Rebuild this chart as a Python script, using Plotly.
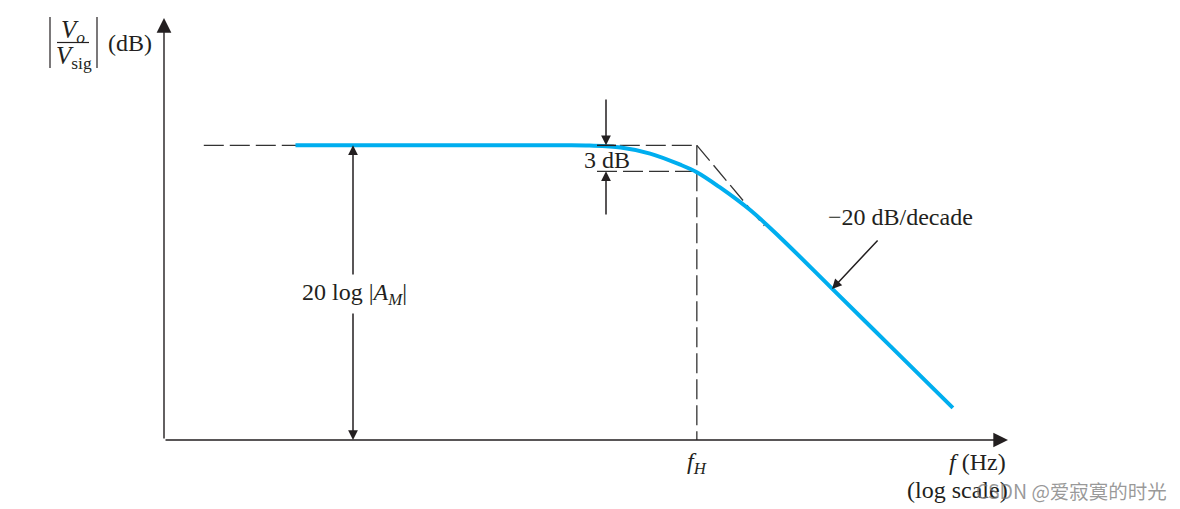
import plotly.graph_objects as go

# ---------------- data ----------------
# frequency axis is log10(f); gain in dB
log_f = [0.76, 1.60, 2.30, 2.46, 2.64, 2.81, 2.98, 3.08, 3.21, 3.39, 3.56, 3.85, 4.20, 4.56]
gain_db = [34.0, 34.0, 34.0, 33.97, 33.75, 33.05, 31.8, 30.9, 29.2, 26.5, 23.4, 17.7, 10.8, 3.7]

mid_band_db = 34.0          # 20 log|A_M|
f_h_log = 3.08              # log10(f_H)
drop_db = 3.0               # 3 dB point
guide_start_log = 0.23      # start of the dashed mid-band guide
asym_end = (3.47, 24.7)     # end of the dashed asymptote sketch

# ---------------- layout helpers (pixel -> data units for decorations) ----------------
W, H = 1180, 509
PX_DEC = 173.0
PX_DB = 26.0 / 3.0
OX, OY = 164, 440
ML, MR, MT, MB = 20, 10, 5, 5


def X(px):
    return (px - OX) / PX_DEC


def Y(py):
    return (OY - py) / PX_DB


INK = "#231f20"
BLUE = "#00aeef"
SERIF = "Liberation Serif, Times New Roman, serif"
FS = 24

fig = go.Figure()

# dashed guides
lvl3 = mid_band_db - drop_db
fig.add_trace(go.Scatter(
    x=[guide_start_log, f_h_log, None, f_h_log, f_h_log, None, X(597), f_h_log, None, f_h_log, asym_end[0]],
    y=[mid_band_db, mid_band_db, None, mid_band_db, 0, None, lvl3, lvl3, None, mid_band_db, asym_end[1]],
    mode="lines", line=dict(color="#333333", width=1.3, dash="20px,6px"),
    hoverinfo="skip", showlegend=False))

# response curve
fig.add_trace(go.Scatter(
    x=log_f, y=gain_db, mode="lines",
    line=dict(color=BLUE, width=4, shape="spline", smoothing=1.0),
    hoverinfo="skip", showlegend=False))

shapes = []
# short solid tick at the mid-band level for the 3 dB dimension
shapes.append(dict(type="line", xref="x", yref="y", x0=X(597), x1=X(616),
                   y0=mid_band_db, y1=mid_band_db, line=dict(color=INK, width=1.5), layer="above"))
# |Vo/Vsig| bars and fraction line
for bx in (50, 97):
    shapes.append(dict(type="line", xref="x", yref="y", x0=X(bx), x1=X(bx), y0=Y(17), y1=Y(68),
                       line=dict(color=INK, width=1.2)))
shapes.append(dict(type="line", xref="x", yref="y", x0=X(57), x1=X(89), y0=Y(42.5), y1=Y(42.5),
                   line=dict(color=INK, width=1.2)))

ann = []


def arrow(tip, tail, size=1.3, width=1.5):
    ann.append(dict(x=tip[0], y=tip[1], ax=tail[0], ay=tail[1], xref="x", yref="y",
                    axref="x", ayref="y", text="", showarrow=True, arrowhead=2,
                    arrowsize=size, arrowwidth=width, arrowcolor=INK, standoff=0))


def text(s, px, py, size=FS, xanchor="center", yanchor="middle", color=INK, family=SERIF):
    ann.append(dict(x=X(px), y=Y(py), xref="x", yref="y", text=s, showarrow=False,
                    xanchor=xanchor, yanchor=yanchor, font=dict(family=family, size=size, color=color)))


# axes with arrows
arrow((0, Y(18)), (0, 0), size=2.1, width=1.4)
arrow((X(1008), 0), (0, 0), size=2.1, width=1.4)

# 3 dB dimension arrows
x3 = X(606)
arrow((x3, mid_band_db), (x3, Y(98)))
arrow((x3, lvl3), (x3, Y(216)))
text("3 dB", 607, 160)

# 20 log |A_M| dimension arrows
xa = X(353)
arrow((xa, mid_band_db), (xa, Y(276)))
arrow((xa, 0), (xa, Y(312)))
text("20 log |<i>A</i><sub><i>M</i></sub>|", 354, 294)

# -20 dB/decade
arrow((X(832), Y(289)), (X(879), Y(239)))
text("\u221220 dB/decade", 900, 217)

# y-axis title
text("<i>V</i><sub><i>o</i></sub>", 73, 31, size=25)
text("<i>V</i><sub>sig</sub>", 74, 57, size=25)
text("(dB)", 130, 43, size=24)

# x labels
text("<i>f</i><sub><i>H</i></sub>", 697, 463, size=24)
text("<i>f</i> (Hz)", 977, 462, size=24)
text("(log scale)", 957, 490, size=24)

# watermark
text("CSDN @爱寂寞的时光", 1071, 490, size=19.5, color="rgba(120,120,120,0.75)",
     family="Noto Sans CJK SC, Noto Sans, sans-serif")

fig.update_layout(
    width=W, height=H,
    margin=dict(l=ML, r=MR, t=MT, b=MB),
    paper_bgcolor="white", plot_bgcolor="white",
    xaxis=dict(range=[X(ML), X(W - MR)], visible=False, fixedrange=True),
    yaxis=dict(range=[Y(H - MB), Y(MT)], visible=False, fixedrange=True),
    shapes=shapes, annotations=ann, showlegend=False,
)

fig.write_html("out.html", config={"displayModeBar": False},
               post_script="document.body.style.margin='0px';")
